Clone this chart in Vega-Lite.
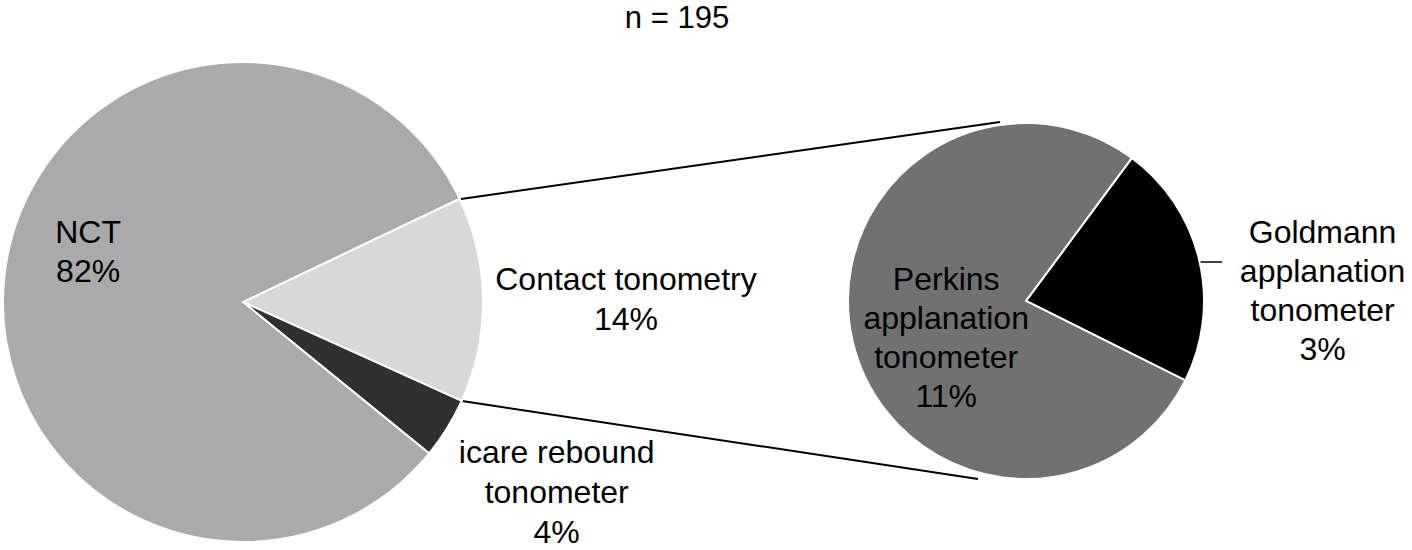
{
  "$schema": "https://vega.github.io/schema/vega-lite/v6.json",
  "width": 1412,
  "height": 550,
  "padding": 0,
  "autosize": "none",
  "background": "#ffffff",
  "config": {"view": {"stroke": null}},
  "title": {"text": "n = 195", "frame": "group", "anchor": "middle", "dx": -29, "offset": -59, "baseline": "alphabetic", "font": "Liberation Sans", "fontSize": 31, "fontWeight": "normal", "color": "#000000"},
  "datasets": {
    "overall": [
      {"pie": "All", "tool": "Contact tonometry", "count": 27, "rank": 1, "label": "Contact tonometry\n14%"},
      {"pie": "All", "tool": "icare rebound tonometer", "count": 8, "rank": 2, "label": "icare rebound\ntonometer\n4%"},
      {"pie": "All", "tool": "NCT", "count": 160, "rank": 3, "label": "NCT\n82%"}
    ],
    "contact": [
      {"pie": "Contact tonometry", "tool": "Goldmann applanation tonometer", "count": 6, "rank": 1, "label": "Goldmann\napplanation\ntonometer\n3%"},
      {"pie": "Contact tonometry", "tool": "Perkins applanation tonometer", "count": 21, "rank": 2, "label": "Perkins\napplanation\ntonometer\n11%"}
    ],
    "links": [
      {"pie": "All", "to": "Contact tonometry", "edge": "upper"},
      {"pie": "All", "to": "Contact tonometry", "edge": "lower"},
      {"pie": "Contact tonometry", "to": "Contact tonometry", "edge": "leader"}
    ]
  },
  "resolve": {"scale": {"theta": "independent"}},
  "layer": [
    {
      "data": {"name": "links"},
      "transform": [{"filter": "datum.edge === 'upper'"}],
      "mark": {"type": "rule", "color": "#000000", "strokeWidth": 2, "xOffset": 218, "yOffset": -103, "x2Offset": -26, "y2Offset": -179},
      "encoding": {
        "x": {"field": "pie", "type": "nominal", "axis": null, "scale": {"type": "point", "domain": ["All", "Contact tonometry"], "range": [243, 1026], "padding": 0}},
        "x2": {"field": "to"},
        "y": {"field": "pie", "type": "nominal", "axis": null, "scale": {"type": "point", "domain": ["All", "Contact tonometry"], "range": [302, 301], "padding": 0}},
        "y2": {"field": "to"}
      }
    },
    {
      "data": {"name": "links"},
      "transform": [{"filter": "datum.edge === 'lower'"}],
      "mark": {"type": "rule", "color": "#000000", "strokeWidth": 2, "xOffset": 219, "yOffset": 99, "x2Offset": -48, "y2Offset": 178},
      "encoding": {
        "x": {"field": "pie", "type": "nominal", "axis": null, "scale": {"type": "point", "domain": ["All", "Contact tonometry"], "range": [243, 1026], "padding": 0}},
        "x2": {"field": "to"},
        "y": {"field": "pie", "type": "nominal", "axis": null, "scale": {"type": "point", "domain": ["All", "Contact tonometry"], "range": [302, 301], "padding": 0}},
        "y2": {"field": "to"}
      }
    },
    {
      "data": {"name": "links"},
      "transform": [{"filter": "datum.edge === 'leader'"}],
      "mark": {"type": "rule", "color": "#000000", "strokeWidth": 1.5, "xOffset": 174, "yOffset": -39, "x2Offset": 196, "y2Offset": -39},
      "encoding": {
        "x": {"field": "pie", "type": "nominal", "axis": null, "scale": {"type": "point", "domain": ["All", "Contact tonometry"], "range": [243, 1026], "padding": 0}},
        "x2": {"field": "to"},
        "y": {"field": "pie", "type": "nominal", "axis": null, "scale": {"type": "point", "domain": ["All", "Contact tonometry"], "range": [302, 301], "padding": 0}},
        "y2": {"field": "to"}
      }
    },
    {
      "data": {"name": "overall"},
      "mark": {"type": "arc", "outerRadius": 240, "stroke": "#ffffff", "strokeWidth": 2},
      "encoding": {
        "x": {"field": "pie", "type": "nominal", "axis": null, "scale": {"type": "point", "domain": ["All", "Contact tonometry"], "range": [243, 1026], "padding": 0}},
        "y": {"field": "pie", "type": "nominal", "axis": null, "scale": {"type": "point", "domain": ["All", "Contact tonometry"], "range": [302, 301], "padding": 0}},
        "theta": {"field": "count", "type": "quantitative", "stack": true, "scale": {"range": [1.1257, 7.4089], "nice": false}},
        "color": {"field": "tool", "type": "nominal", "legend": null, "scale": {"domain": ["NCT", "Contact tonometry", "icare rebound tonometer", "Perkins applanation tonometer", "Goldmann applanation tonometer"], "range": ["#aaaaaa", "#d8d8d8", "#303030", "#717171", "#000000"]}},
        "order": {"field": "rank", "type": "quantitative"}
      }
    },
    {
      "data": {"name": "contact"},
      "mark": {"type": "arc", "outerRadius": 178, "stroke": "#ffffff", "strokeWidth": 2},
      "encoding": {
        "x": {"field": "pie", "type": "nominal", "axis": null, "scale": {"type": "point", "domain": ["All", "Contact tonometry"], "range": [243, 1026], "padding": 0}},
        "y": {"field": "pie", "type": "nominal", "axis": null, "scale": {"type": "point", "domain": ["All", "Contact tonometry"], "range": [302, 301], "padding": 0}},
        "theta": {"field": "count", "type": "quantitative", "stack": true, "scale": {"range": [0.637, 6.9202], "nice": false}},
        "color": {"field": "tool", "type": "nominal", "legend": null, "scale": {"domain": ["NCT", "Contact tonometry", "icare rebound tonometer", "Perkins applanation tonometer", "Goldmann applanation tonometer"], "range": ["#aaaaaa", "#d8d8d8", "#303030", "#717171", "#000000"]}},
        "order": {"field": "rank", "type": "quantitative"}
      }
    },
    {
      "data": {"name": "overall"},
      "mark": {"type": "text", "radius": 383, "dy": -8, "align": "center", "baseline": "alphabetic", "font": "Liberation Sans", "fontSize": 32, "lineBreak": "\n", "lineHeight": 40, "color": "#000000"},
      "encoding": {
        "x": {"field": "pie", "type": "nominal", "axis": null, "scale": {"type": "point", "domain": ["All", "Contact tonometry"], "range": [243, 1026], "padding": 0}},
        "y": {"field": "pie", "type": "nominal", "axis": null, "scale": {"type": "point", "domain": ["All", "Contact tonometry"], "range": [302, 301], "padding": 0}},
        "theta": {"field": "count", "type": "quantitative", "stack": true, "scale": {"range": [1.1257, 7.4089], "nice": false}},
        "detail": {"field": "tool", "type": "nominal"},
        "order": {"field": "rank", "type": "quantitative"},
        "text": {"condition": {"test": "datum.tool === 'Contact tonometry'", "field": "label", "type": "nominal"}, "value": ""}
      }
    },
    {
      "data": {"name": "overall"},
      "mark": {"type": "text", "radius": 330, "dx": 33, "dy": -13, "align": "center", "baseline": "alphabetic", "font": "Liberation Sans", "fontSize": 32, "lineBreak": "\n", "lineHeight": 40, "color": "#000000"},
      "encoding": {
        "x": {"field": "pie", "type": "nominal", "axis": null, "scale": {"type": "point", "domain": ["All", "Contact tonometry"], "range": [243, 1026], "padding": 0}},
        "y": {"field": "pie", "type": "nominal", "axis": null, "scale": {"type": "point", "domain": ["All", "Contact tonometry"], "range": [302, 301], "padding": 0}},
        "theta": {"field": "count", "type": "quantitative", "stack": true, "scale": {"range": [1.1257, 7.4089], "nice": false}},
        "detail": {"field": "tool", "type": "nominal"},
        "order": {"field": "rank", "type": "quantitative"},
        "text": {"condition": {"test": "datum.tool === 'icare rebound tonometer'", "field": "label", "type": "nominal"}, "value": ""}
      }
    },
    {
      "data": {"name": "overall"},
      "mark": {"type": "text", "radius": 160, "dx": 4, "dy": -40, "align": "center", "baseline": "alphabetic", "font": "Liberation Sans", "fontSize": 32, "lineBreak": "\n", "lineHeight": 39, "color": "#000000"},
      "encoding": {
        "x": {"field": "pie", "type": "nominal", "axis": null, "scale": {"type": "point", "domain": ["All", "Contact tonometry"], "range": [243, 1026], "padding": 0}},
        "y": {"field": "pie", "type": "nominal", "axis": null, "scale": {"type": "point", "domain": ["All", "Contact tonometry"], "range": [302, 301], "padding": 0}},
        "theta": {"field": "count", "type": "quantitative", "stack": true, "scale": {"range": [1.1257, 7.4089], "nice": false}},
        "detail": {"field": "tool", "type": "nominal"},
        "order": {"field": "rank", "type": "quantitative"},
        "text": {"condition": {"test": "datum.tool === 'NCT'", "field": "label", "type": "nominal"}, "value": ""}
      }
    },
    {
      "data": {"name": "contact"},
      "mark": {"type": "text", "radius": 80, "dx": -2, "dy": -30, "align": "center", "baseline": "alphabetic", "font": "Liberation Sans", "fontSize": 32, "lineBreak": "\n", "lineHeight": 39, "color": "#000000"},
      "encoding": {
        "x": {"field": "pie", "type": "nominal", "axis": null, "scale": {"type": "point", "domain": ["All", "Contact tonometry"], "range": [243, 1026], "padding": 0}},
        "y": {"field": "pie", "type": "nominal", "axis": null, "scale": {"type": "point", "domain": ["All", "Contact tonometry"], "range": [302, 301], "padding": 0}},
        "theta": {"field": "count", "type": "quantitative", "stack": true, "scale": {"range": [0.637, 6.9202], "nice": false}},
        "detail": {"field": "tool", "type": "nominal"},
        "order": {"field": "rank", "type": "quantitative"},
        "text": {"condition": {"test": "datum.tool === 'Perkins applanation tonometer'", "field": "label", "type": "nominal"}, "value": ""}
      }
    },
    {
      "data": {"name": "contact"},
      "mark": {"type": "text", "radius": 305, "dx": 0, "dy": 13, "align": "center", "baseline": "alphabetic", "font": "Liberation Sans", "fontSize": 32, "lineBreak": "\n", "lineHeight": 39, "color": "#000000"},
      "encoding": {
        "x": {"field": "pie", "type": "nominal", "axis": null, "scale": {"type": "point", "domain": ["All", "Contact tonometry"], "range": [243, 1026], "padding": 0}},
        "y": {"field": "pie", "type": "nominal", "axis": null, "scale": {"type": "point", "domain": ["All", "Contact tonometry"], "range": [302, 301], "padding": 0}},
        "theta": {"field": "count", "type": "quantitative", "stack": true, "scale": {"range": [0.637, 6.9202], "nice": false}},
        "detail": {"field": "tool", "type": "nominal"},
        "order": {"field": "rank", "type": "quantitative"},
        "text": {"condition": {"test": "datum.tool === 'Goldmann applanation tonometer'", "field": "label", "type": "nominal"}, "value": ""}
      }
    }
  ]
}
